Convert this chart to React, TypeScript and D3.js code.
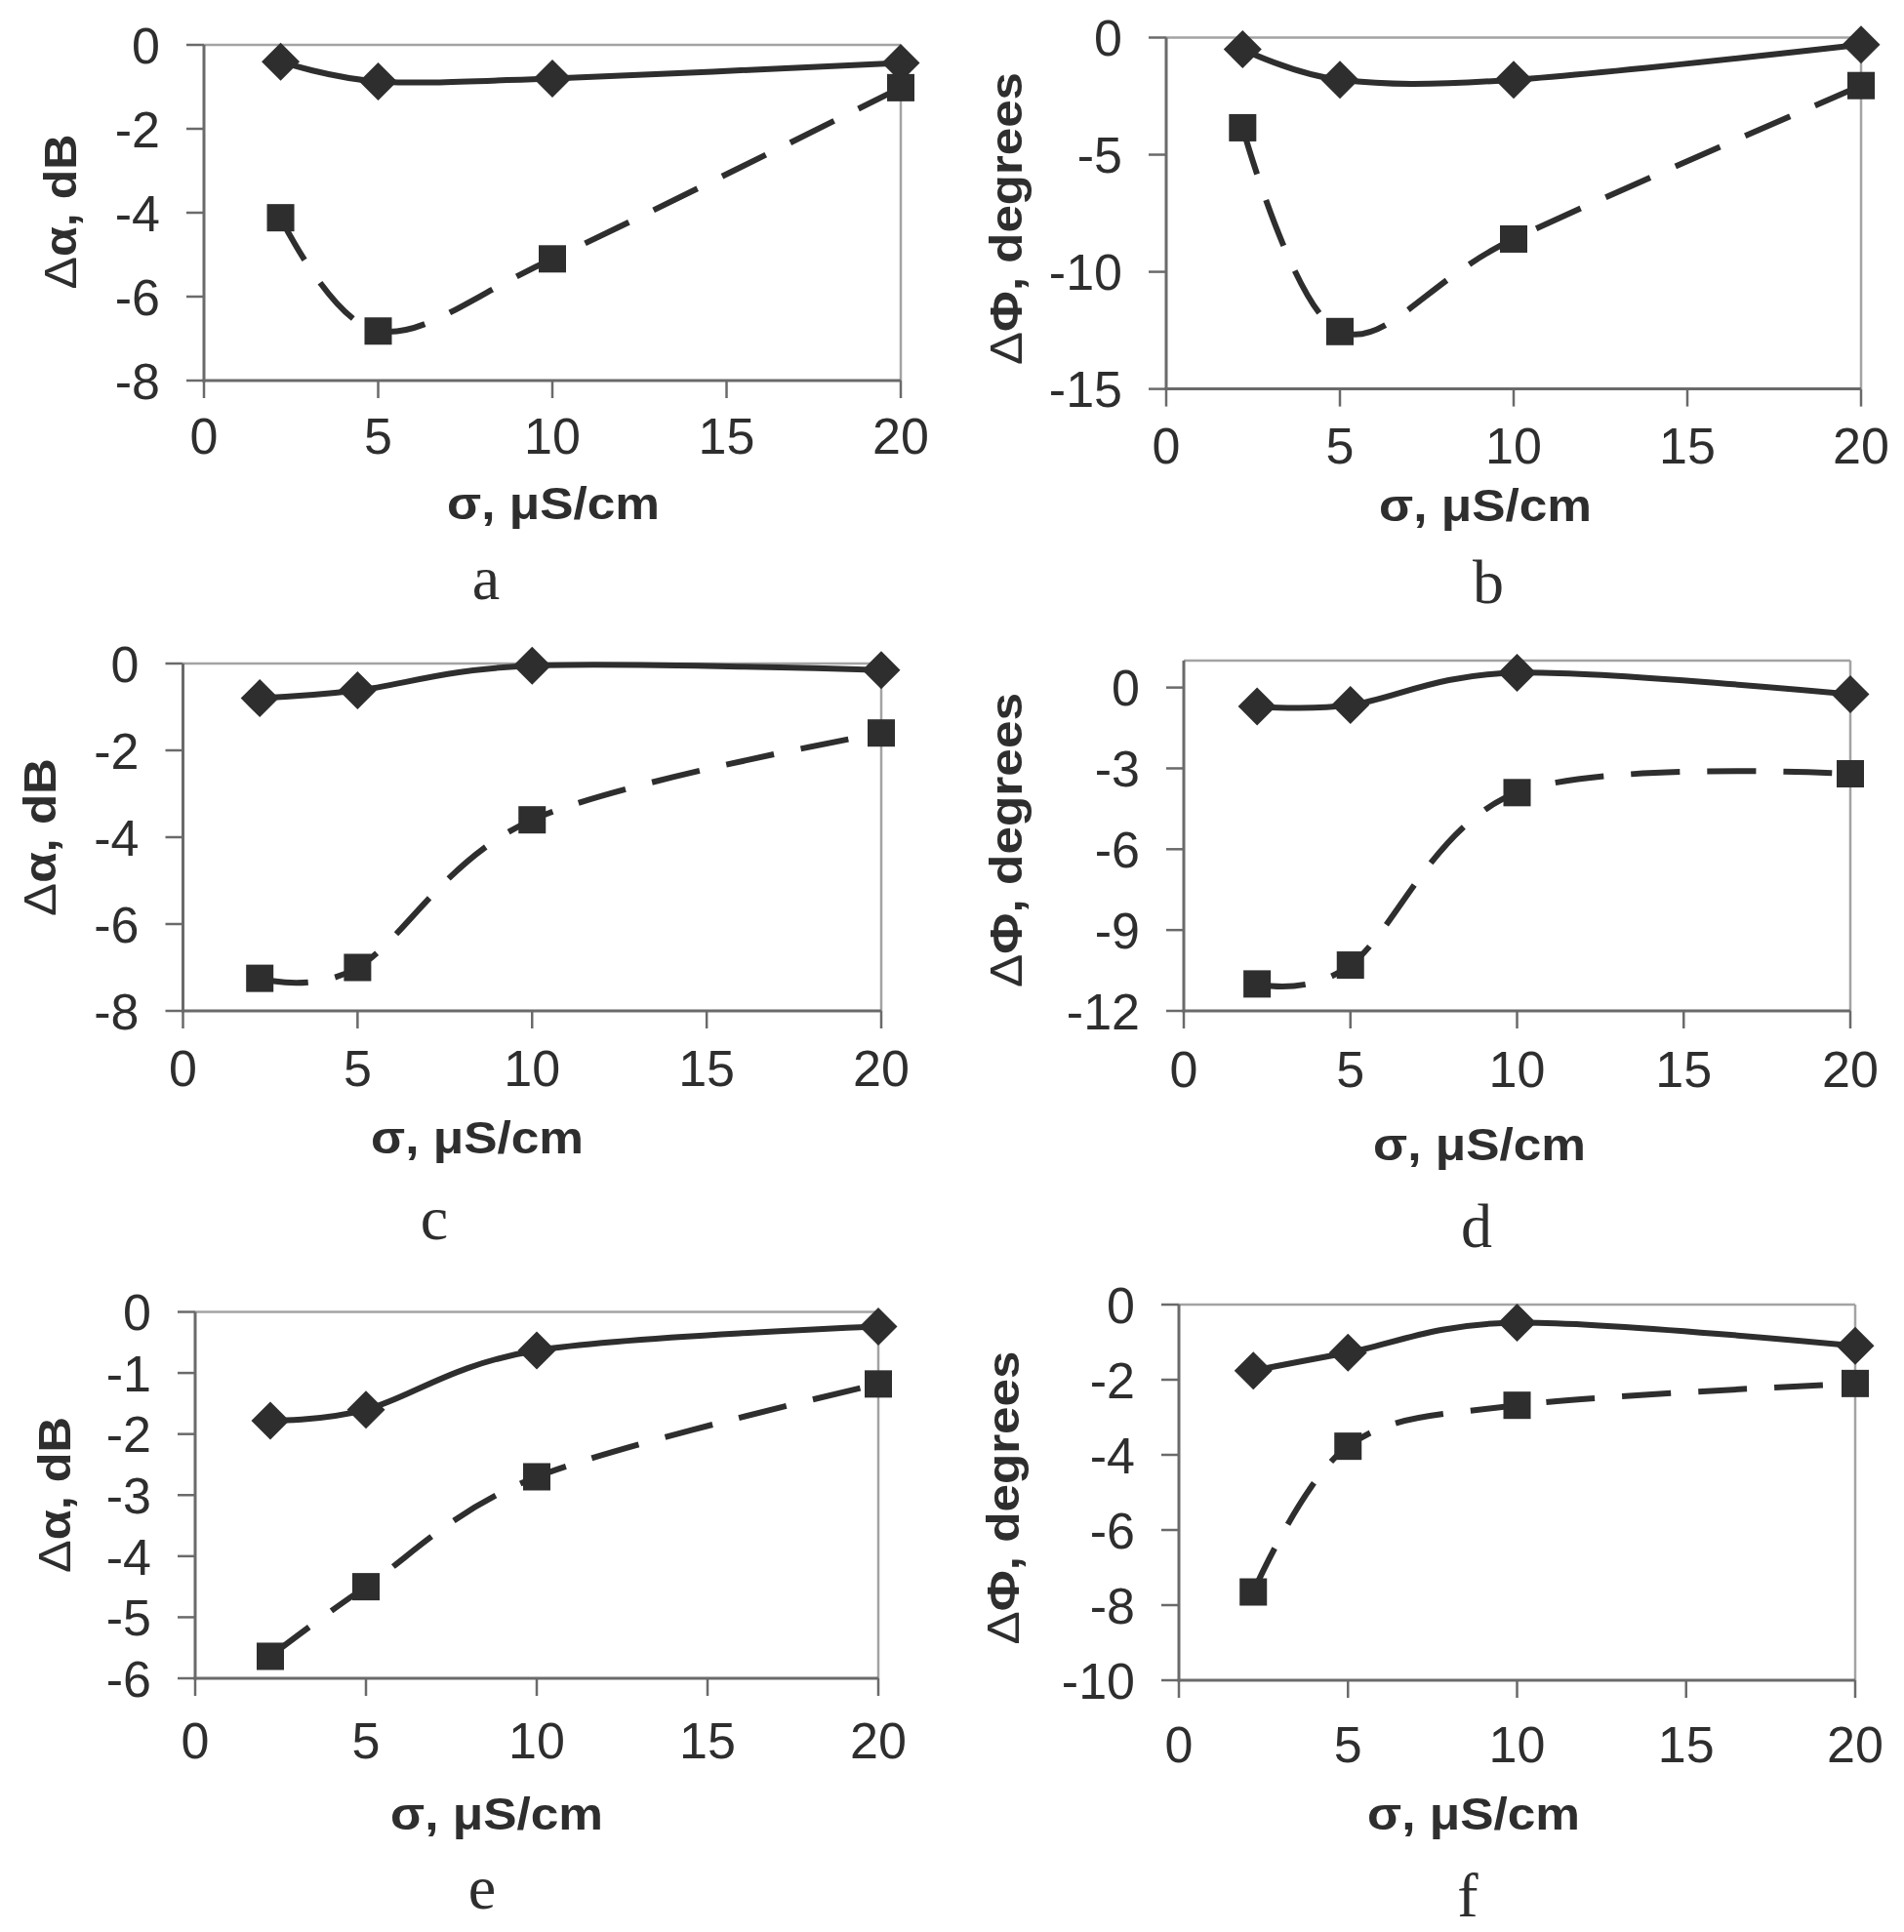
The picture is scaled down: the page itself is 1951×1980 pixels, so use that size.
import React, { useEffect } from 'react';
import * as d3 from 'd3';

// ---- data ----
const sigma = [2.2, 5, 10, 20];
const xTicks = [0, 5, 10, 15, 20];

const aDiamond = [-0.4, -0.87, -0.8, -0.43];
const aSquare = [-4.12, -6.82, -5.1, -1.02];
const bDiamond = [-0.5, -1.8, -1.8, -0.3];
const bSquare = [-3.85, -12.55, -8.6, -2.05];
const cDiamond = [-0.8, -0.62, -0.05, -0.15];
const cSquare = [-7.25, -7.0, -3.6, -1.6];
const dDiamond = [-0.7, -0.65, 0.55, -0.25];
const dSquare = [-11.0, -10.3, -3.9, -3.2];
const eDiamond = [-1.78, -1.6, -0.63, -0.24];
const eSquare = [-5.64, -4.5, -2.7, -1.18];
const fDiamond = [-1.76, -1.28, -0.48, -1.1];
const fSquare = [-7.65, -3.77, -2.68, -2.1];

const yTicksA = [0, -2, -4, -6, -8];
const yTicksB = [0, -5, -10, -15];
const yTicksC = [0, -2, -4, -6, -8];
const yTicksD = [0, -3, -6, -9, -12];
const yTicksE = [0, -1, -2, -3, -4, -5, -6];
const yTicksF = [0, -2, -4, -6, -8, -10];

const panelLetters = ['a', 'b', 'c', 'd', 'e', 'f'];
const xTitle = 'σ, μS/cm';
const yTitleAmp = ['Δ', 'α, dB'];
const yTitlePhase = ['Δ', 'Φ, degrees'];

// ---- layout ----
type Panel = {
  diamond: number[];
  square: number[];
  yDomain: [number, number];
  yTicks: number[];
  yTitle: string[];
  yTitleLen: number;
  L: number; R: number; T: number; B: number;
  xLabOff: number;
  xTitlePos: [number, number];
  yTitlePos: [number, number];
  labelPos: [number, number];
};

const panels: Panel[] = [
  { diamond: aDiamond, square: aSquare, yDomain: [-8, 0], yTicks: yTicksA, yTitle: yTitleAmp, yTitleLen: 159,
    L: 209, R: 923, T: 46, B: 390, xLabOff: 56, xTitlePos: [567, 532], yTitlePos: [78, 217], labelPos: [498, 614] },
  { diamond: bDiamond, square: bSquare, yDomain: [-15, 0], yTicks: yTicksB, yTitle: yTitlePhase, yTitleLen: 300,
    L: 1195, R: 1907, T: 38.5, B: 398.6, xLabOff: 58, xTitlePos: [1522, 534], yTitlePos: [1047, 224], labelPos: [1525, 618] },
  { diamond: cDiamond, square: cSquare, yDomain: [-8, 0], yTicks: yTicksC, yTitle: yTitleAmp, yTitleLen: 162,
    L: 187.5, R: 903, T: 680, B: 1036, xLabOff: 58, xTitlePos: [489, 1182], yTitlePos: [57, 858], labelPos: [445, 1270] },
  { diamond: dDiamond, square: dSquare, yDomain: [-12, 1], yTicks: yTicksD, yTitle: yTitlePhase, yTitleLen: 302,
    L: 1213, R: 1896, T: 677, B: 1036, xLabOff: 59, xTitlePos: [1516, 1189], yTitlePos: [1047, 861], labelPos: [1513, 1278] },
  { diamond: eDiamond, square: eSquare, yDomain: [-6, 0], yTicks: yTicksE, yTitle: yTitleAmp, yTitleLen: 160,
    L: 200, R: 900, T: 1344.5, B: 1720, xLabOff: 63, xTitlePos: [509, 1875], yTitlePos: [72, 1532], labelPos: [494, 1956] },
  { diamond: fDiamond, square: fSquare, yDomain: [-10, 0], yTicks: yTicksF, yTitle: yTitlePhase, yTitleLen: 301,
    L: 1208, R: 1901, T: 1337, B: 1722, xLabOff: 65, xTitlePos: [1510, 1875], yTitlePos: [1044, 1535], labelPos: [1504, 1964] },
];

const TICK_FS = 52;
const TITLE_FS = 47;
const X_TITLE_LEN = 218;
const LABEL_FS = 64;
const INK = '#2e2e2e';
const AXIS = '#6a6a6a';
const BORDER = '#a3a3a3';
const SANS = '"Liberation Sans", Arial, Helvetica, sans-serif';
const SERIF = '"Liberation Serif", "Times New Roman", serif';

function PanelChart({ p, letter }: { p: Panel; letter: string }) {
  const x = d3.scaleLinear().domain([0, 20]).range([p.L, p.R]);
  const y = d3.scaleLinear().domain(p.yDomain).range([p.B, p.T]);
  const line = d3
    .line<number>()
    .x((_, i) => x(sigma[i]))
    .y((v) => y(v))
    .curve(d3.curveCatmullRom.alpha(0));
  const tick = 18;
  const dHalf = 19.5;
  const sq = 28;
  return (
    <g>
      {/* plot border (top/right) */}
      <line x1={p.L} x2={p.R} y1={p.T} y2={p.T} stroke={BORDER} strokeWidth={2.5} />
      <line x1={p.R} x2={p.R} y1={p.T} y2={p.B} stroke={BORDER} strokeWidth={2.5} />
      {/* axes */}
      <line x1={p.L} x2={p.L} y1={p.T} y2={p.B + 1.5} stroke={AXIS} strokeWidth={3} />
      <line x1={p.L - 1.5} x2={p.R} y1={p.B} y2={p.B} stroke={AXIS} strokeWidth={3} />
      {p.yTicks.map((t) => (
        <g key={'y' + t}>
          <line x1={p.L - tick} x2={p.L} y1={y(t)} y2={y(t)} stroke={AXIS} strokeWidth={2.5} />
          <text x={p.L - 45} y={y(t) + TICK_FS * 0.36} textAnchor="end" fontFamily={SANS}
            fontSize={TICK_FS} fill={INK}>{t}</text>
        </g>
      ))}
      {xTicks.map((t) => (
        <g key={'x' + t}>
          <line x1={x(t)} x2={x(t)} y1={p.B} y2={p.B + tick} stroke={AXIS} strokeWidth={2.5} />
          <text x={x(t)} y={p.B + p.xLabOff + TICK_FS * 0.36} textAnchor="middle" fontFamily={SANS}
            fontSize={TICK_FS} fill={INK}>{t}</text>
        </g>
      ))}
      {/* series */}
      <path d={line(p.diamond) || ''} fill="none" stroke={INK} strokeWidth={6} />
      <path d={line(p.square) || ''} fill="none" stroke={INK} strokeWidth={6} strokeDasharray="50 28" />
      {p.diamond.map((v, i) => (
        <path key={'d' + i}
          d={`M${x(sigma[i])},${y(v) - dHalf}L${x(sigma[i]) + dHalf},${y(v)}L${x(sigma[i])},${y(v) + dHalf}L${x(sigma[i]) - dHalf},${y(v)}Z`}
          fill={INK} />
      ))}
      {p.square.map((v, i) => (
        <rect key={'s' + i} x={x(sigma[i]) - sq / 2} y={y(v) - sq / 2} width={sq} height={sq} fill={INK} />
      ))}
      {/* titles */}
      <text x={p.xTitlePos[0]} y={p.xTitlePos[1]} textAnchor="middle" fontFamily={SANS}
        fontWeight="bold" fontSize={TITLE_FS} fill={INK}
        textLength={X_TITLE_LEN} lengthAdjust="spacingAndGlyphs">{xTitle}</text>
      <text transform={`translate(${p.yTitlePos[0]},${p.yTitlePos[1]}) rotate(-90)`} textAnchor="middle"
        fontFamily={SANS} fontWeight="bold" fontSize={TITLE_FS} fill={INK}
        textLength={p.yTitleLen} lengthAdjust="spacingAndGlyphs">
        <tspan fontWeight="normal">{p.yTitle[0]}</tspan>{p.yTitle[1]}
      </text>
      <text x={p.labelPos[0]} y={p.labelPos[1]} textAnchor="middle" fontFamily={SERIF}
        fontSize={LABEL_FS} fill={INK}>{letter}</text>
    </g>
  );
}

export default function App() {
  useEffect(() => {
    document.body.style.margin = '0';
  }, []);
  return (
    <svg width={1951} height={1980} viewBox="0 0 1951 1980"
      style={{ position: 'absolute', left: 0, top: 0, background: '#fff' }}>
      <rect x={0} y={0} width={1951} height={1980} fill="#fff" />
      {panels.map((p, i) => (
        <PanelChart key={i} p={p} letter={panelLetters[i]} />
      ))}
    </svg>
  );
}
